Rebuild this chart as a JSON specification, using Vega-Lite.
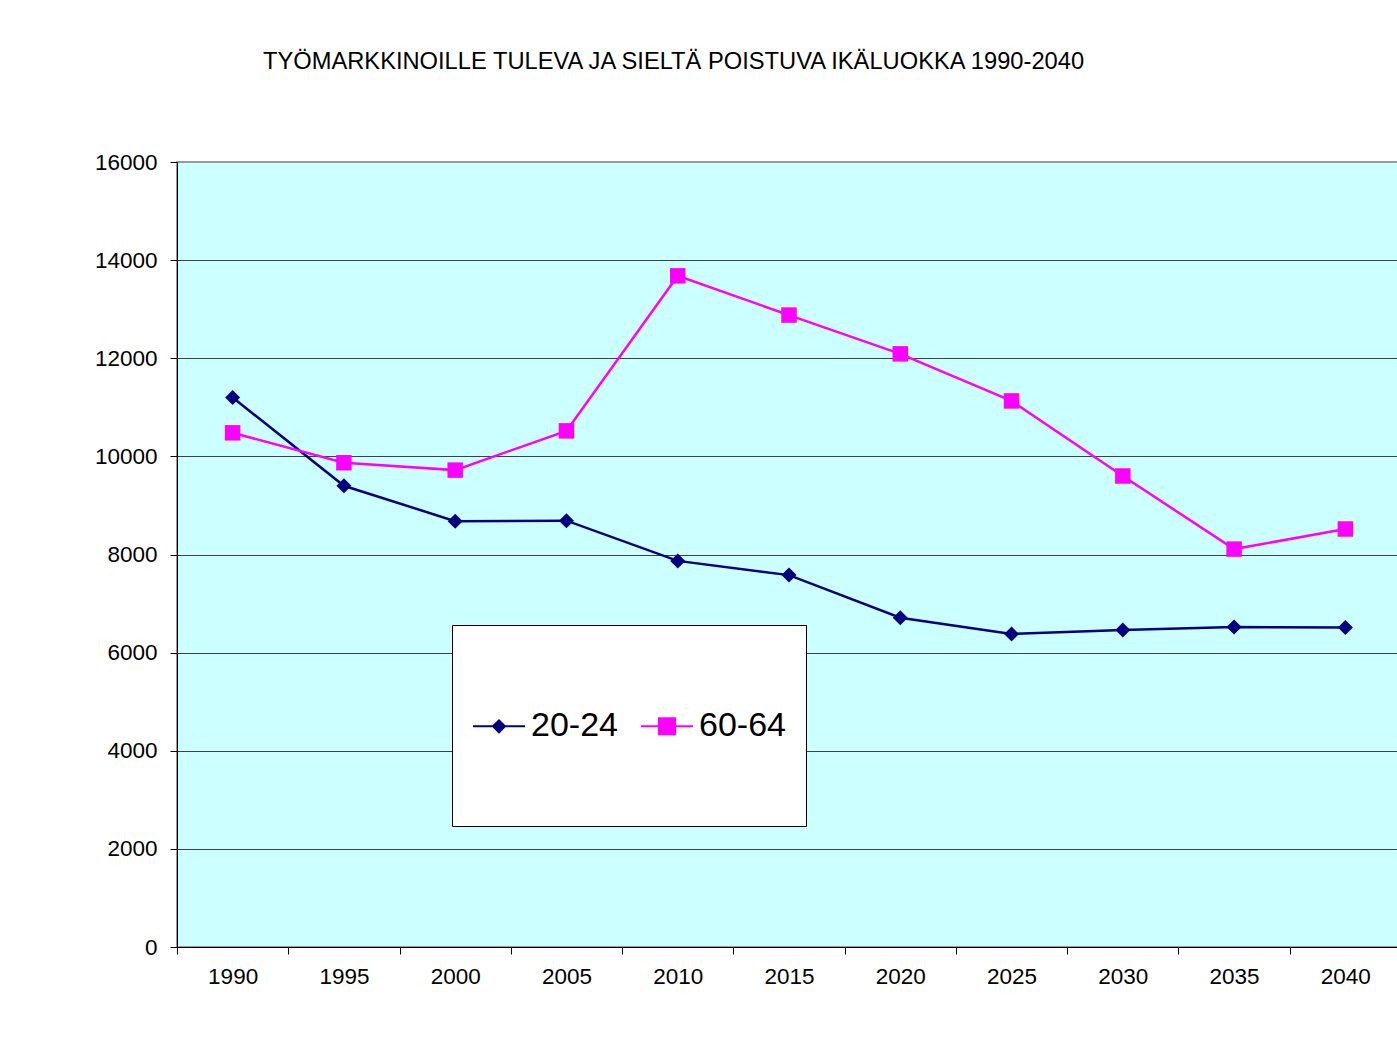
{
  "$schema": "https://vega.github.io/schema/vega-lite/v6.json",
  "width": 1224,
  "height": 785,
  "autosize": {"type": "none"},
  "padding": {"left": 177, "top": 162, "right": 0, "bottom": 98},
  "background": "white",
  "title": {
    "text": "TYÖMARKKINOILLE TULEVA JA SIELTÄ POISTUVA IKÄLUOKKA 1990-2040",
    "anchor": "start",
    "frame": "group",
    "dx": 86,
    "offset": 58,
    "baseline": "alphabetic",
    "font": "Liberation Sans",
    "fontSize": 23.7,
    "fontWeight": "normal",
    "color": "black"
  },
  "config": {
    "view": {"fill": "#CCFFFF", "stroke": "#999999", "strokeWidth": 2},
    "font": "Liberation Sans"
  },
  "data": {
    "values": [
      {"year": "1990", "series": "20-24", "value": 11200},
      {"year": "1995", "series": "20-24", "value": 9400},
      {"year": "2000", "series": "20-24", "value": 8680},
      {"year": "2005", "series": "20-24", "value": 8690},
      {"year": "2010", "series": "20-24", "value": 7870},
      {"year": "2015", "series": "20-24", "value": 7580},
      {"year": "2020", "series": "20-24", "value": 6710},
      {"year": "2025", "series": "20-24", "value": 6380},
      {"year": "2030", "series": "20-24", "value": 6460},
      {"year": "2035", "series": "20-24", "value": 6520},
      {"year": "2040", "series": "20-24", "value": 6510},
      {"year": "1990", "series": "60-64", "value": 10480},
      {"year": "1995", "series": "60-64", "value": 9870},
      {"year": "2000", "series": "60-64", "value": 9720},
      {"year": "2005", "series": "60-64", "value": 10520},
      {"year": "2010", "series": "60-64", "value": 13680},
      {"year": "2015", "series": "60-64", "value": 12880},
      {"year": "2020", "series": "60-64", "value": 12090},
      {"year": "2025", "series": "60-64", "value": 11130},
      {"year": "2030", "series": "60-64", "value": 9600},
      {"year": "2035", "series": "60-64", "value": 8110},
      {"year": "2040", "series": "60-64", "value": 8520}
    ]
  },
  "encoding": {
    "x": {
      "field": "year",
      "type": "ordinal",
      "scale": {"paddingInner": 0, "paddingOuter": 0},
      "axis": {
        "tickBand": "extent",
        "labelAngle": 0,
        "title": null,
        "domainColor": "black",
        "tickColor": "black",
        "tickSize": 7,
        "labelPadding": 11,
        "labelFontSize": 22.5,
        "labelFont": "Liberation Sans",
        "labelColor": "black",
        "grid": false
      }
    },
    "y": {
      "field": "value",
      "type": "quantitative",
      "scale": {"domain": [0, 16000], "nice": false, "zero": true},
      "axis": {
        "values": [0, 2000, 4000, 6000, 8000, 10000, 12000, 14000, 16000],
        "format": "d",
        "grid": true,
        "gridColor": {"condition": {"test": "datum.value == 16000", "value": "transparent"}, "value": "#404040"},
        "domainColor": "black",
        "tickColor": "black",
        "tickSize": 7,
        "labelPadding": 13,
        "labelFontSize": 22.5,
        "labelFont": "Liberation Sans",
        "labelColor": "black",
        "title": null
      }
    }
  },
  "layer": [
    {
      "mark": {"type": "line", "strokeWidth": 2.5},
      "encoding": {
        "color": {
          "field": "series",
          "type": "nominal",
          "scale": {"domain": ["20-24", "60-64"], "range": ["#000080", "#FF00FF"]},
          "legend": {
            "orient": "none",
            "legendX": 275,
            "legendY": 463,
            "direction": "horizontal",
            "title": " ",
            "titleFontSize": 10,
            "titlePadding": 44,
            "fillColor": "white",
            "strokeColor": "#000000",
            "padding": 20,
            "labelFontSize": 34,
            "labelFont": "Liberation Sans",
            "labelColor": "black",
            "labelOffset": 5,
            "columnPadding": 19,
            "symbolSize": 2704,
            "symbolStrokeWidth": 2,
            "encode": {
              "symbols": {
                "update": {
                  "shape": {"signal": "datum.value == '20-24' ? 'M-1,0L1,0M-0.23,0L0,-0.23L0.23,0L0,0.23Z M0,-2.9 M0,2.9' : 'M-1,0L1,0M-0.31,-0.31L0.31,-0.31L0.31,0.31L-0.31,0.31Z M0,-2.9 M0,2.9'"},
                  "fill": {"signal": "datum.value == '20-24' ? '#000080' : '#FF00FF'"},
                  "stroke": {"signal": "datum.value == '20-24' ? '#000080' : '#FF00FF'"},
                  "opacity": {"value": 1},
                  "size": {"value": 2704}
                }
              }
            }
          }
        }
      }
    },
    {
      "transform": [{"filter": "datum.series == '20-24'"}],
      "mark": {"type": "point", "shape": "diamond", "filled": true, "opacity": 1, "size": 225, "color": "#000080"}
    },
    {
      "transform": [{"filter": "datum.series == '60-64'"}],
      "mark": {"type": "point", "shape": "square", "filled": true, "opacity": 1, "size": 240, "color": "#FF00FF"}
    }
  ]
}
